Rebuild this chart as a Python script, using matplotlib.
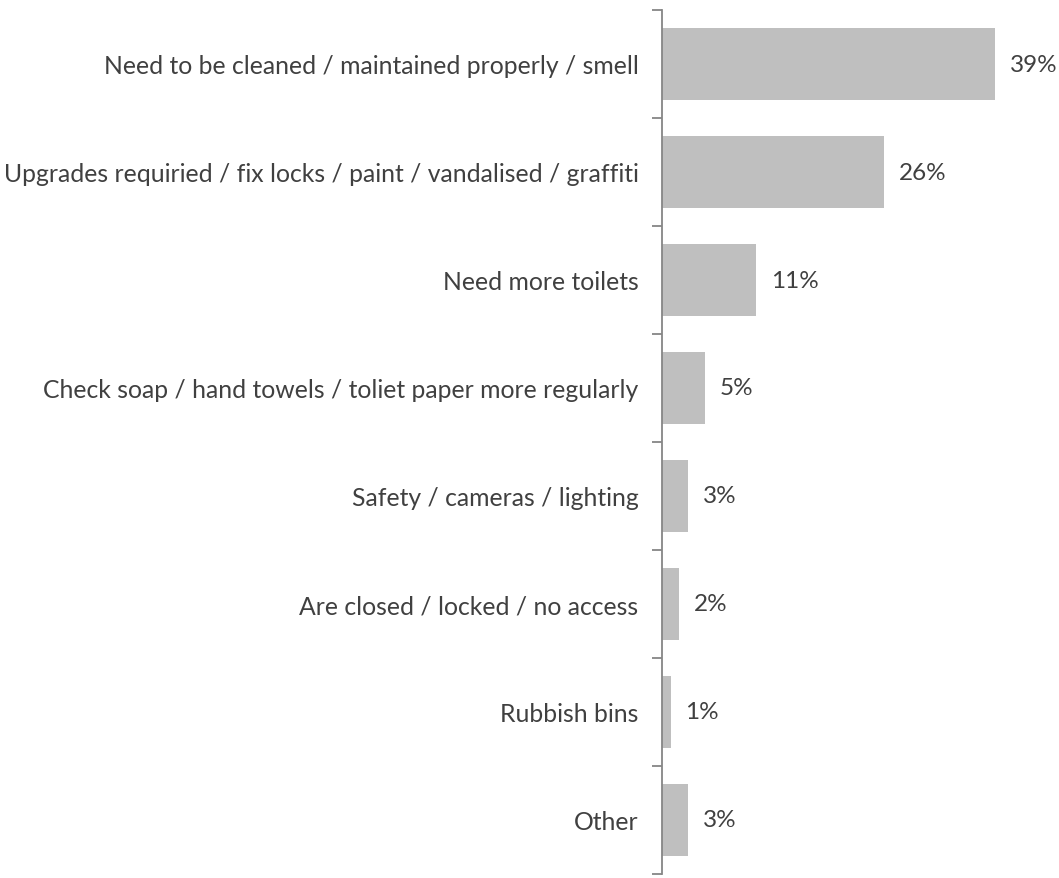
import matplotlib.pyplot as plt
import numpy as np

categories = [
    "Need to be cleaned / maintained properly / smell",
    "Upgrades requiried / fix locks / paint / vandalised / graffiti",
    "Need more toilets",
    "Check soap / hand towels / toliet paper more regularly",
    "Safety / cameras / lighting",
    "Are closed / locked / no access",
    "Rubbish bins",
    "Other",
]
values = [39, 26, 11, 5, 3, 2, 1, 3]

plt.rcParams['font.family'] = ['Lato', 'DejaVu Sans']

fig = plt.figure(figsize=(10.59, 8.79), dpi=100)
ax = fig.add_axes([662 / 1059, 4 / 879, (1040 - 662) / 1059, 864 / 879])

y = np.arange(len(categories))
ax.barh(y, values, height=0.67, color="#BFBFBF")

px_per_unit = 333 / 39
ax.set_xlim(0, (1040 - 662) / px_per_unit)
ax.set_ylim(len(categories) - 0.5, -0.5)

for yi, v in zip(y, values):
    ax.text(v + 15 / px_per_unit, yi, f"{v}%", va="center", ha="left",
            fontsize=17.5, color="#404040")

for s in ["top", "right", "bottom"]:
    ax.spines[s].set_visible(False)
ax.spines["left"].set_color("#868686")
ax.spines["left"].set_linewidth(1.3)
ax.set_xticks([])

ax.set_yticks(y)
ax.set_yticklabels(categories, fontsize=17.8, color="#404040")
ax.tick_params(axis="y", which="major", length=0, pad=17)
ax.set_yticks(np.arange(-0.5, len(categories)), minor=True)
ax.tick_params(axis="y", which="minor", length=7, width=1.3, color="#868686")

fig.savefig("out.png", dpi=100, facecolor="white")
